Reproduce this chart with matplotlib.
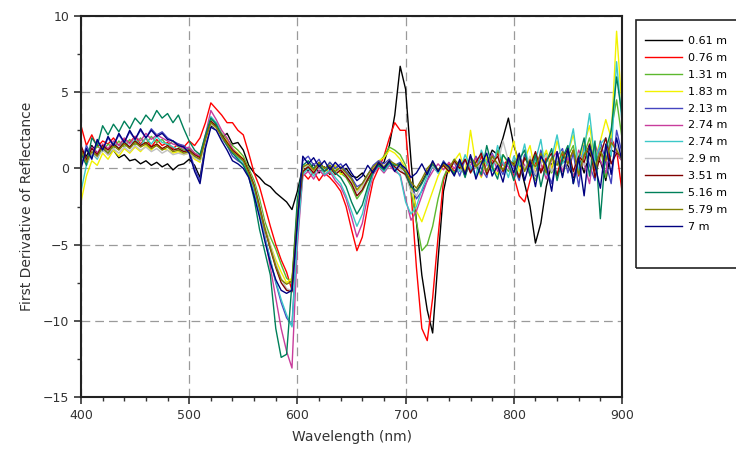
import numpy as np
import matplotlib
matplotlib.use("Agg")
import matplotlib.pyplot as plt
from matplotlib.patches import Rectangle

# wavelength grid, 5 nm steps
wavelength = np.arange(400, 901, 5)

labels = ["0.61 m", "0.76 m", "1.31 m", "1.83 m", "2.13 m", "2.74 m",
          "2.74 m", "2.9 m", "3.51 m", "5.16 m", "5.79 m", "7 m"]
colors = ["#000000", "#ff0000", "#5cb82e", "#f2f200", "#4545c0", "#c83c9c",
          "#3cc8c8", "#c0c0c0", "#800000", "#00805a", "#808000", "#000080"]

d061 = [1.2, 0.8, 1.5, 1.0, 1.3, 0.9, 1.2, 0.7, 0.9, 0.5,
        0.6, 0.3, 0.5, 0.2, 0.4, 0.1, 0.3, -0.1, 0.2, 0.3,
        0.6, 0.2, -0.6, 1.5, 2.8, 2.6, 2.0, 2.3, 1.6, 1.7,
        1.2, 0.2, -0.3, -0.6, -1.0, -1.2, -1.6, -1.9, -2.2, -2.7,
        -1.5, 0.1, -0.2, 0.3, -0.3, 0.1, -0.4, 0.2, -0.3, 0.0,
        -0.5, -0.6, -0.3, -0.8, -0.2, 0.1, 0.4, 1.5, 3.5, 6.7,
        5.2, 0.5, -3.5, -7.0, -9.3, -10.8, -6.0, -1.5, 0.2, -0.4,
        0.2, -0.4, 0.5, 0.1, 0.8, 0.3, 1.2, 0.9, 2.0, 3.3,
        1.5, 0.4, -1.0, -2.5, -4.9, -3.6, -1.2, 0.3, -0.5, 0.6,
        0.2, -0.6, 0.8, -0.3, 1.0, 0.2, 0.5, -0.8, 1.2, 1.0,
        0.5]
d076 = [2.8, 1.5, 2.2, 1.4, 1.8, 1.6, 2.0, 1.5, 1.9, 1.7,
        2.1, 1.6, 2.0, 1.4, 1.9, 1.5, 1.7, 1.3, 1.6, 1.4,
        1.8, 1.5, 2.0, 3.0, 4.3, 3.9, 3.5, 3.0, 3.0, 2.5,
        2.2, 1.0, -0.3, -1.2, -2.5, -3.8, -5.0, -6.0, -6.8, -8.0,
        -2.5, -0.3, -0.7, -0.2, -0.8, -0.3, -0.6, -1.0, -1.5, -2.5,
        -4.0, -5.4, -4.5, -2.5, -0.8, 0.0, 0.8, 2.0, 3.0, 2.5,
        2.5, -1.5, -6.5, -10.5, -11.3, -8.5, -4.5, -0.8, 0.3, -0.2,
        0.3, -0.4, 0.6, 0.0, 0.8, -0.3, 0.5, 1.0, 0.2, 0.6,
        -0.5, -1.8, -2.2, -0.8, 0.4, -0.2, 0.7, 0.1, -0.4, 0.9,
        0.3, 1.2, -0.5, 0.8, 1.5, -0.2, 1.0, 0.4, 2.0, 1.2,
        -1.5]
d131 = [0.5, 1.2, 0.8, 1.5, 1.1, 1.6, 1.3, 1.8, 1.4, 1.9,
        1.5, 2.0, 1.6, 2.1, 1.7, 1.9, 1.5, 1.8, 1.4, 1.2,
        1.3, 1.0, 0.8, 2.0, 3.2, 3.0, 2.3, 1.9, 1.5, 1.2,
        0.8, 0.0, -0.8, -2.0, -3.5, -4.5, -5.3, -6.3, -7.2, -7.5,
        -3.0, -0.3, 0.2, -0.2, 0.3, -0.1, 0.4, 0.0, -0.3, -0.6,
        -1.2, -2.0, -1.5, -0.8, -0.2, 0.4, 0.8, 1.4, 1.2, 0.9,
        0.2, -1.5, -3.5, -5.4, -5.0, -3.8, -2.0, -0.6, 0.2, -0.3,
        0.3, -0.5, 0.6, 0.1, -0.4, 0.7, 0.0, 1.2, 0.3, -0.2,
        0.5, -0.6, 0.9, 0.1, -0.8, 0.4, 1.0, -0.3, 0.6, -0.5,
        0.8, 1.5, -0.4, 0.9, 2.0, 0.1, 1.4, -0.6, 2.5, 4.5,
        2.0]
d183 = [-2.2, -0.5, 0.5, 0.2, 1.0, 0.6, 1.2, 0.8, 1.3, 1.0,
        1.4, 1.1, 1.5, 1.2, 1.6, 1.3, 1.2, 1.0, 1.1, 0.9,
        1.0, 0.6, 0.4, 1.8, 3.0, 2.6, 2.1, 1.8, 1.3, 1.0,
        0.6, -0.2, -1.2, -2.5, -3.8, -5.0, -6.0, -6.8, -7.5, -7.2,
        -2.5, 0.0, 0.3, -0.2, 0.4, 0.0, -0.3, 0.2, -0.4, -0.2,
        -0.8, -1.5, -1.2, -0.5, 0.1, 0.5, 0.7, 1.2, 1.0, 0.6,
        0.0, -1.0, -2.8, -3.5, -2.5, -1.5, -0.5, 0.2, -0.3, 0.5,
        1.0, -0.3, 2.5, 0.2, -0.6, 0.8, 0.1, -0.4, 0.9, 0.3,
        1.8, -0.2, 0.6, 1.5, -0.3, 0.4, 1.2, 0.0, 1.8, 0.5,
        1.0, 2.2, 0.3, 1.6, 2.8, 0.6, 1.8, 3.2, 2.0, 9.0,
        4.0]
d213 = [0.2, 1.5, 0.8, 1.8, 1.2, 2.0, 1.5, 2.2, 1.7, 2.4,
        1.9, 2.5, 2.0, 2.6, 2.2, 2.4, 2.0, 1.8, 1.6, 1.5,
        1.2, 0.0, -0.8, 1.5, 3.0, 2.8, 2.0, 1.5, 0.8, 0.5,
        0.3, -0.5, -1.5, -3.0, -4.5, -6.0, -7.5, -8.8, -9.8, -10.3,
        -4.0, 0.5, 0.8, 0.2, 0.6, -0.1, 0.4, 0.0, 0.3, -0.2,
        -0.6, -1.2, -1.0, -0.4, 0.2, 0.5, 0.3, 0.6, 0.2, 0.4,
        -0.3, -1.0, -2.0, -1.5, -0.8, 0.2, -0.3, 0.5, 0.0, 0.4,
        -0.5, 0.6, -0.2, 0.8, 0.0, -0.6, 1.0, 0.2, -0.4, 0.7,
        0.1, -0.8, 0.9, 0.3, -0.5, 1.2, 0.0, -1.0, 0.8, 1.3,
        -0.3, 1.0, -1.2, 1.5, 0.2, -0.8, 1.8, 0.4, -1.0, 2.5,
        1.0]
d274a = [1.0, 0.5, 1.4, 1.0, 1.6, 1.3, 1.8, 1.5, 2.0, 1.6,
         2.1, 1.8, 2.3, 1.9, 2.2, 2.0, 1.8, 1.6, 1.5, 1.3,
         1.4, 1.0, 0.8, 2.2, 3.8, 3.2, 2.5, 2.0, 1.3, 0.9,
         0.5, -0.3, -1.2, -2.8, -4.5, -6.5, -8.5, -10.5, -12.0, -13.1,
         -5.0, -0.5, -0.2, -0.7, -0.1, -0.5, -0.2, -0.8, -1.2, -2.0,
         -3.2, -4.5, -3.6, -1.8, -0.4, 0.1, -0.3, 0.2, -0.2, -0.4,
         -2.0, -3.4, -2.8, -1.8, -0.8, -0.2, 0.3, -0.1, 0.4, 0.0,
         0.5, -0.3, 0.2, 0.7, -0.5, 0.3, 0.9, -0.2, 0.4, 0.1,
         -0.6, 0.8, 0.2, -0.4, 1.0, 0.3, -0.7, 0.6, 1.1, -0.2,
         0.7, -0.5, 1.2, 0.3, -1.0, 1.6, 0.5, -0.3, 1.9, 1.0,
         0.5]
d274b = [-1.5, 0.2, 1.0, 0.6, 1.4, 1.0, 1.7, 1.3, 1.8, 1.4,
         1.9, 1.5, 2.0, 1.6, 2.1, 1.7, 1.6, 1.4, 1.2, 1.1,
         1.2, 0.8, 0.5, 2.0, 3.4, 3.0, 2.2, 1.6, 1.0, 0.7,
         0.4, -0.4, -1.4, -3.0, -4.6, -6.0, -7.4, -8.6, -9.6, -10.4,
         -4.5, -0.4, 0.0, -0.5, 0.2, -0.4, -0.1, -0.6, -1.0, -1.8,
         -2.8, -3.8, -3.0, -1.5, -0.3, 0.2, -0.2, 0.3, 0.0, -0.5,
         -2.2, -3.0, -2.5, -1.4, -0.5, 0.2, -0.3, 0.4, -0.1, 0.6,
         -0.2, 0.9, 0.1, -0.5, 1.2, 0.3, -0.2, 1.5, 0.4, -0.6,
         0.8, 0.2, 1.6, -0.3, 0.5, 1.9, -0.4, 0.7, 2.2, 0.3,
         1.0, 2.6, -0.2, 1.2, 3.6, 0.5, 1.6, 2.0, 0.8, 7.0,
         3.0]
d290 = [0.8, 0.3, 1.0, 0.7, 1.2, 0.9, 1.3, 1.0, 1.4, 1.1,
        1.5, 1.2, 1.4, 1.1, 1.3, 1.0, 1.2, 0.9, 1.0, 0.9,
        1.0, 0.7, 0.5, 1.8, 2.9, 2.6, 2.0, 1.6, 1.2, 0.9,
        0.5, -0.2, -1.0, -2.3, -3.8, -5.0, -6.2, -7.2, -7.9, -8.0,
        -3.0, 0.0, 0.2, -0.3, 0.3, -0.1, 0.2, -0.3, 0.0, -0.4,
        -0.9, -1.6, -1.2, -0.6, 0.0, 0.3, 0.1, 0.5, 0.2, 0.0,
        -0.5, -1.5, -1.8, -1.0, -0.3, 0.2, -0.2, 0.3, 0.0, 0.4,
        0.1, -0.4, 0.6, 0.0, 0.4, -0.3, 0.7, 0.2, 1.8, 0.5,
        -0.3, 0.5, 0.0, 0.8, -0.4, 0.3, 0.9, -0.2, 0.6, 0.1,
        0.4, -0.3, 1.0, 0.2, 0.7, -0.5, 1.2, 0.6, 0.3, 1.5,
        0.5]
d351 = [1.5, 0.6, 1.3, 0.9, 1.5, 1.2, 1.6, 1.3, 1.7, 1.4,
        1.8, 1.5, 1.7, 1.4, 1.6, 1.3, 1.5, 1.2, 1.3, 1.1,
        1.2, 0.9, 0.7, 2.0, 3.1, 2.8, 2.2, 1.7, 1.2, 0.9,
        0.6, -0.2, -1.1, -2.5, -4.0, -5.3, -6.5, -7.5, -8.0, -8.1,
        -3.2, -0.2, 0.1, -0.3, 0.2, -0.2, 0.1, -0.4, -0.1, -0.5,
        -1.0, -1.8, -1.4, -0.7, -0.1, 0.3, 0.0, 0.4, 0.1, -0.2,
        -0.4, -1.2, -1.5, -0.9, -0.2, 0.3, -0.1, 0.2, -0.2, 0.5,
        0.0, 0.6, -0.3, 0.4, 1.0, -0.4, 0.3, 0.8, -0.2, 0.5,
        0.3, -0.6, 0.7, 0.1, 1.1, -0.3, 0.5, 1.0, -0.5, 0.6,
        1.3, -0.2, 0.8, 0.4, 1.6, -0.6, 0.9, 2.0, 0.3, 1.0,
        0.8]
d516 = [1.0, 0.2, 2.0, 1.5, 2.8, 2.2, 2.9, 2.4, 3.1, 2.6,
        3.3, 2.9, 3.5, 3.1, 3.8, 3.3, 3.6, 3.0, 3.5, 2.6,
        1.8, 1.2, 0.9, 2.2, 3.3, 2.9, 2.1, 1.5, 1.0, 0.6,
        0.2, -0.5, -2.0, -4.0, -5.5, -7.0, -10.5, -12.4, -12.2, -7.5,
        -2.0, 0.2, 0.5, 0.0, 0.3, -0.2, 0.2, -0.3, -0.6, -1.2,
        -2.2, -3.0, -2.4, -1.2, -0.2, 0.2, -0.1, 0.4, 0.2, 0.3,
        -0.3, -1.2, -1.5, -1.0, -0.3, 0.3, -0.2, 0.4, 0.1, -0.4,
        0.5, -0.6, 0.8, 0.2, -0.4, 1.5, 0.1, -0.7, 0.9, 0.4,
        -0.8, 0.6, 1.2, -0.5, 0.9, -1.2, 0.4, 1.3, -0.8, 0.7,
        1.5, -1.0, 0.6, 2.0, -0.5, 1.8, -3.3, 1.2, 2.5, 6.0,
        3.5]
d579 = [1.2, 0.4, 1.1, 0.8, 1.4, 1.0, 1.5, 1.2, 1.6, 1.3,
        1.7, 1.4, 1.6, 1.3, 1.5, 1.2, 1.4, 1.1, 1.2, 1.0,
        1.1, 0.8, 0.6, 1.9, 3.0, 2.7, 2.1, 1.6, 1.1, 0.8,
        0.5, -0.3, -1.2, -2.6, -4.0, -5.2, -6.4, -7.3, -7.6, -7.4,
        -3.0, 0.1, 0.3, -0.1, 0.4, 0.0, 0.2, -0.2, 0.1, -0.3,
        -0.7, -1.4, -1.0, -0.4, 0.1, 0.4, 0.1, 0.5, 0.3, 0.1,
        -0.2, -0.9, -1.3, -0.7, 0.0, 0.4, -0.1, 0.3, 0.0, 0.6,
        0.2, -0.3, 0.7, 0.1, 0.5, -0.2, 0.8, 0.3, -0.1, 0.6,
        0.2, 0.9, -0.2, 0.6, 0.1, 1.0, -0.3, 0.7, 0.2, 1.1,
        0.3, 1.2, -0.4, 0.9, 1.4, 0.0, 1.1, 0.5, 1.7, 1.2,
        0.6]
d700 = [0.0, 1.3, 0.6, 1.9, 1.2, 2.1, 1.5, 2.3, 1.7, 2.5,
        1.9, 2.6, 2.0, 2.5, 2.1, 2.3, 1.9, 1.8, 1.5, 1.4,
        1.0, -0.2, -1.0, 1.3, 2.7, 2.5, 1.8, 1.2, 0.5, 0.3,
        0.0, -0.6, -1.8, -3.2, -4.8, -6.2, -7.3, -8.0, -8.2, -8.0,
        -3.5, 0.8, 0.3, 0.7, 0.1, 0.5, -0.1, 0.4, 0.0, 0.3,
        -0.3, -0.8, -0.5, 0.2, -0.3, 0.4, 0.0, 0.5, -0.2, 0.3,
        0.0, -0.6, -0.3, 0.3, -0.4, 0.5, -0.2, 0.4, 0.1, -0.5,
        0.6, -0.4, 0.9, -0.7, 0.3, 1.0, -0.5, 0.2, -0.9, 0.7,
        -0.3, 1.0, -0.8, 0.5, -1.2, 0.8, 0.2, -1.5, 1.1, -0.6,
        1.3, -1.0, 0.7, -1.8, 1.5, 0.2, -1.3, 1.6, -0.4, 2.0,
        0.5]

series = [d061, d076, d131, d183, d213, d274a, d274b, d290, d351, d516, d579, d700]

plt.rcParams["font.family"] = "DejaVu Sans"

fig = plt.figure(figsize=(7.36, 4.61), dpi=100)
ax = fig.add_axes([81 / 736, 1 - 397 / 461, (622 - 81) / 736, (397 - 16) / 461])

for vals, col, lab in zip(series, colors, labels):
    ax.plot(wavelength, vals, color=col, lw=1.0, label=lab)

ax.set_xlim(400, 900)
ax.set_ylim(-15, 10)
ax.set_xticks(np.arange(400, 901, 100))
ax.set_xticks(np.arange(400, 901, 20), minor=True)
ax.set_yticks(np.arange(-15, 11, 5))
ax.set_yticks(np.arange(-15, 11, 2.5), minor=True)
ax.tick_params(which="major", direction="out", length=5, width=1.2, labelsize=9, colors="#333333")
ax.tick_params(which="minor", direction="out", length=3, width=1.0, color="#333333")
ax.grid(True, which="major", color="#9a9a9a", linestyle=(0, (7, 4)), lw=0.9)
for s in ax.spines.values():
    s.set_linewidth(1.5)
    s.set_color("#222222")

ax.set_xlabel("Wavelength (nm)", fontsize=10, color="#333333", labelpad=6)
ax.set_ylabel("First Derivative of Reflectance", fontsize=10, color="#333333", labelpad=6)

# legend box sticks out past the right edge of the figure
fig.patches.append(Rectangle((636 / 736, 1 - 268 / 461), 120 / 736, 248 / 461,
                             transform=fig.transFigure, fill=False,
                             edgecolor="#222222", lw=1.2))
fig.legend(loc="upper left", bbox_to_anchor=(645 / 736, 1 - 36 / 461),
           frameon=False, fontsize=8, handlelength=3.3, handletextpad=0.6,
           labelspacing=0.62, borderaxespad=0, borderpad=0)

fig.savefig("out.png", dpi=100)
